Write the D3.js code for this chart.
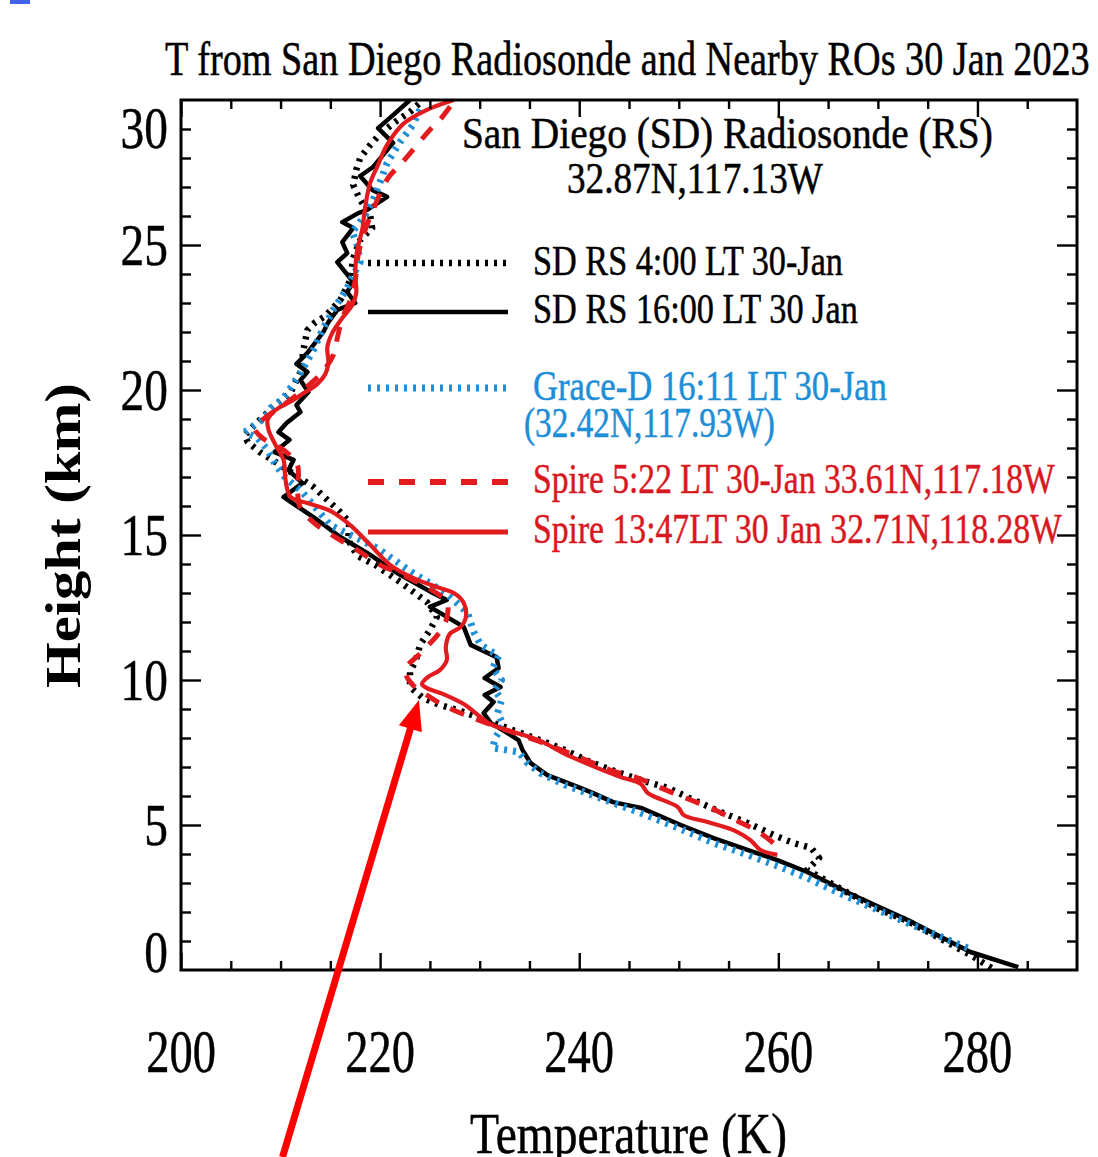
<!DOCTYPE html>
<html>
<head>
<meta charset="utf-8">
<title>T from San Diego Radiosonde and Nearby ROs 30 Jan 2023</title>
<script src="https://cdn.jsdelivr.net/npm/d3@7"></script>
<style>
  html, body { margin: 0; padding: 0; background: #fff; }
  svg { display: block; }
  text { font-family: "Liberation Serif", "Times New Roman", Times, serif; }
</style>
</head>
<body>
<svg id="chart" width="1098" height="1157"></svg>
<script>
// Temperature profiles, each point is [temperature (K), height (km)]
const sdRs0400 = [[281.4,0.07],[279.3,0.52],[273.0,1.69],[270.3,2.07],[267.0,2.66],[262.9,3.45],[264.1,3.86],[263.3,4.21],[261.5,4.38],[259.5,4.66],[256.9,5.07],[254.2,5.45],[251.5,5.86],[248.9,6.28],[246.5,6.52],[244.1,6.79],[241.1,7.17],[238.8,7.55],[236.8,7.83],[234.4,8.14],[231.1,8.55],[228.1,8.93],[226.0,9.14],[224.3,9.38],[223.0,9.76],[223.0,10.28],[223.6,10.69],[224.0,11.21],[225.0,11.72],[225.7,12.17],[224.7,12.69],[222.0,13.38],[219.5,13.97],[217.7,14.28],[216.8,14.83],[216.9,15.45],[216.0,15.79],[214.7,16.21],[213.3,16.66],[211.5,17.07],[209.5,17.52],[207.9,17.86],[206.7,18.21],[206.4,18.45],[207.1,18.69],[208.1,19.03],[209.5,19.48],[211.0,19.90],[212.0,20.62],[212.3,21.38],[212.7,22.07],[213.5,22.34],[214.5,22.55],[216.0,23.10],[217.0,23.79],[217.3,24.55],[218.0,25.17],[219.2,25.59],[219.0,26.03],[218.0,26.55],[217.3,27.07],[217.6,27.59],[218.0,28.00],[219.0,28.45],[220.0,28.83],[221.5,29.24],[223.0,29.59],[224.0,29.90]];

const sdRs1600 = [[284.1,0.10],[279.3,0.62],[273.0,1.72],[267.0,2.66],[262.9,3.38],[259.9,3.79],[256.9,4.14],[253.5,4.55],[250.2,5.00],[246.2,5.59],[243.4,5.79],[241.4,6.10],[240.1,6.28],[236.8,6.72],[235.1,7.14],[234.3,7.59],[233.9,7.93],[232.8,8.17],[231.1,8.52],[230.4,8.86],[231.4,9.24],[230.5,9.48],[232.1,9.76],[230.5,10.07],[231.9,10.41],[231.7,10.79],[229.1,11.21],[228.4,11.83],[225.0,12.52],[226.7,12.76],[225.3,13.00],[221.7,13.69],[218.7,14.38],[216.0,14.93],[213.3,15.62],[211.0,16.14],[210.3,16.31],[212.2,16.79],[210.8,17.24],[211.3,17.59],[209.4,17.86],[210.9,18.28],[209.8,18.55],[210.6,18.86],[212.0,19.24],[211.6,19.48],[212.8,19.93],[212.0,20.34],[212.7,20.62],[211.6,20.90],[212.7,21.28],[214.3,22.00],[214.8,22.34],[215.7,22.76],[217.5,23.00],[216.7,23.38],[217.3,23.72],[215.7,24.41],[216.7,24.72],[216.2,25.10],[217.3,25.59],[216.2,25.79],[217.8,26.10],[218.7,26.21],[220.7,26.66],[219.2,26.90],[218.0,27.38],[219.3,27.69],[221.3,28.52],[219.8,29.03],[221.3,29.48],[223.0,30.00]];

const graceD1611 = [[279.0,0.76],[273.0,1.62],[267.0,2.52],[262.9,3.17],[259.9,3.59],[256.9,3.97],[253.5,4.38],[250.2,4.86],[246.2,5.41],[242.1,5.93],[238.6,6.38],[236.1,6.79],[234.8,7.14],[233.9,7.52],[231.3,7.66],[231.6,8.03],[232.4,8.45],[231.8,8.86],[232.2,9.31],[231.5,9.66],[232.2,10.00],[231.3,10.41],[231.9,10.83],[230.1,11.21],[229.4,11.66],[228.8,12.31],[226.7,12.97],[225.0,13.34],[223.3,13.69],[219.7,14.55],[217.0,15.00],[215.0,15.34],[213.3,16.03],[212.0,16.55],[210.5,16.97],[209.5,17.41],[208.7,17.93],[207.7,18.34],[206.4,18.55],[207.4,18.79],[208.4,19.03],[209.0,19.38],[210.3,19.72],[212.0,20.59],[213.3,21.38],[214.2,22.07],[215.3,22.76],[216.7,23.52],[217.3,23.97],[218.0,24.41],[217.7,25.00],[217.2,25.45],[218.5,26.03],[219.3,26.55],[220.0,27.17],[220.7,27.83],[222.0,28.55],[223.3,29.14],[224.2,29.83]];

const spire0522 = [[259.5,4.38],[257.9,4.79],[255.7,5.17],[253.0,5.62],[250.4,5.97],[248.0,6.31],[245.9,6.62],[243.4,6.86],[241.4,7.14],[236.4,7.83],[234.1,8.10],[231.8,8.38],[229.1,8.72],[226.7,9.07],[225.0,9.41],[223.2,9.86],[222.5,10.34],[224.2,10.97],[226.0,11.66],[226.7,12.14],[226.7,12.69],[225.2,13.10],[222.5,13.59],[220.0,13.97],[217.7,14.48],[215.5,14.93],[213.5,15.38],[212.0,15.93],[211.7,16.55],[211.7,17.41],[210.3,17.93],[208.2,18.34],[207.4,18.69],[208.4,19.03],[210.3,19.48],[212.5,20.07],[214.2,20.62],[215.3,21.21],[215.7,21.79],[216.2,22.48],[217.0,23.10],[217.5,23.79],[217.8,24.66],[218.5,25.52],[219.5,26.38],[220.8,27.31],[222.0,27.76],[223.3,28.28],[225.0,28.97],[226.0,29.31],[227.3,29.90]];

const spire1347 = [[259.9,3.97],[258.2,4.14],[257.2,4.48],[255.7,4.79],[252.9,5.10],[250.5,5.34],[249.9,5.62],[246.9,6.10],[246.2,6.41],[244.1,6.66],[241.8,6.97],[238.4,7.48],[236.1,7.90],[233.4,8.21],[231.1,8.48],[228.4,9.17],[226.3,9.52],[224.7,9.72],[224.2,9.86],[224.8,10.10],[226.0,10.34],[226.7,10.69],[226.6,11.14],[227.0,11.59],[228.1,11.83],[228.6,12.14],[228.4,12.66],[227.4,13.00],[226.0,13.17],[223.3,13.52],[221.0,13.97],[219.0,14.66],[217.0,15.34],[215.0,15.83],[212.7,16.10],[211.0,16.31],[210.5,16.90],[210.3,17.59],[209.5,18.10],[208.8,18.62],[208.7,18.97],[209.5,19.31],[211.3,19.66],[212.5,19.93],[213.7,20.21],[214.5,20.55],[214.8,20.93],[214.7,21.48],[215.2,21.97],[216.2,22.48],[217.2,22.93],[217.6,23.34],[217.5,24.03],[217.7,24.83],[218.2,25.52],[218.5,26.31],[219.0,27.14],[219.7,27.69],[220.7,28.45],[222.3,29.17],[224.7,29.66],[227.4,30.00]];

// Axis ticks and labels
const xTickValues = [200, 220, 240, 260, 280];
const xTickLabels = ["200", "220", "240", "260", "280"];
const yTickValues = [0, 5, 10, 15, 20, 25, 30];
const yTickLabels = ["0", "5", "10", "15", "20", "25", "30"];

// Legend and header texts
const chartTitle = "T from San Diego Radiosonde and Nearby ROs 30 Jan 2023";
const stationName = "San Diego (SD) Radiosonde (RS)";
const stationCoords = "32.87N,117.13W";
const legendLabels = [
  "SD RS 4:00 LT 30-Jan",
  "SD RS 16:00 LT 30 Jan",
  "Grace-D 16:11 LT 30-Jan",
  "Spire 5:22 LT 30-Jan 33.61N,117.18W",
  "Spire 13:47LT 30 Jan 32.71N,118.28W"
];
const graceCoords = "(32.42N,117.93W)";
const xTitle = "Temperature (K)";
const yTitle = "Height (km)";

// Annotation arrow pointing at the Spire 13:47 cold notch, [T, h]
const arrowTail = [210.2, -6.45];
const arrowTip = [223.9, 9.31];

// ---------------------------------------------------------------------
const W = 1098, H = 1157;
const BLACK = "#000000", BLUE = "#1e8ed6", RED = "#e21b1f", TEXT_RED = "#d7191f", ARROW = "#ff0000";

const svg = d3.select("#chart");
svg.append("rect").attr("width", W).attr("height", H).attr("fill", "#fff");

const x = d3.scaleLinear().domain([200, 290]).range([181, 1077]);
const y = d3.scaleLinear().domain([0, 30]).range([970, 100]);

svg.append("clipPath").attr("id", "plotArea")
  .append("rect")
  .attr("x", x(200)).attr("y", y(30))
  .attr("width", x(290) - x(200)).attr("height", y(0) - y(30));

const straight = d3.line().x(d => x(d[0])).y(d => y(d[1]));
const smooth = d3.line().x(d => x(d[0])).y(d => y(d[1])).curve(d3.curveCatmullRom.alpha(0.5));

const profiles = [
  { data: sdRs0400,  gen: straight, color: BLACK, width: 6.5, dash: "3,6" },
  { data: sdRs1600,  gen: straight, color: BLACK, width: 4.5, dash: null },
  { data: graceD1611, gen: straight, color: BLUE, width: 7, dash: "3,6" },
  { data: spire0522, gen: smooth, color: RED, width: 5, dash: "15,13" },
  { data: spire1347, gen: smooth, color: RED, width: 4.2, dash: null }
];

const curves = svg.append("g").attr("clip-path", "url(#plotArea)");
profiles.forEach(p => {
  curves.append("path")
    .datum(p.data)
    .attr("d", p.gen)
    .attr("fill", "none")
    .attr("stroke", p.color)
    .attr("stroke-width", p.width)
    .attr("stroke-dasharray", p.dash)
    .attr("stroke-linejoin", "round")
    .attr("stroke-linecap", "butt");
});

// Inward tick marks on all four sides
function ticks(axisFn, scale, values, len, transform) {
  svg.append("g")
    .attr("transform", transform)
    .call(axisFn(scale).tickValues(values).tickSize(-len).tickFormat(""))
    .call(g => g.select(".domain").remove())
    .selectAll("line").attr("stroke", BLACK).attr("stroke-width", 2.4);
}
const xMinor = d3.range(205, 290, 5).filter(v => v % 20 !== 0);
const yMinor = d3.range(1, 30, 1).filter(v => v % 5 !== 0);
const yMajor = yTickValues.filter(v => v > 0 && v < 30);

ticks(d3.axisBottom, x, xTickValues, 17, `translate(0,${y(0)})`);
ticks(d3.axisBottom, x, xMinor, 9, `translate(0,${y(0)})`);
ticks(d3.axisTop, x, xTickValues, 17, `translate(0,${y(30)})`);
ticks(d3.axisTop, x, xMinor, 9, `translate(0,${y(30)})`);
ticks(d3.axisLeft, y, yMajor, 20, `translate(${x(200)},0)`);
ticks(d3.axisLeft, y, yMinor, 10, `translate(${x(200)},0)`);
ticks(d3.axisRight, y, yMajor, 20, `translate(${x(290)},0)`);
ticks(d3.axisRight, y, yMinor, 10, `translate(${x(290)},0)`);

// Plot frame
svg.append("rect")
  .attr("x", x(200)).attr("y", y(30))
  .attr("width", x(290) - x(200)).attr("height", y(0) - y(30))
  .attr("fill", "none").attr("stroke", BLACK).attr("stroke-width", 3);

// Text squeezed horizontally to a given span, with a hairline outline for weight
function fitText(str, x0, x1, base, size, opts = {}) {
  const fill = opts.fill || BLACK;
  const g = svg.append("g");
  const t = g.append("text")
    .attr("font-size", size)
    .attr("fill", fill)
    .attr("stroke", fill)
    .attr("stroke-width", opts.weight ? 0 : 0.5)
    .attr("font-weight", opts.weight || "normal")
    .text(str);
  const len = t.node().getComputedTextLength();
  const s = Math.abs(x1 - x0) / len;
  if (opts.rotate) {
    g.attr("transform", `translate(${base},${x0}) rotate(-90) scale(${s},1)`);
  } else {
    g.attr("transform", `translate(${x0},${base}) scale(${s},1)`);
  }
  return g;
}

// Tick labels
xTickValues.forEach((v, i) => {
  svg.append("g")
    .attr("transform", `translate(${x(v)},1072) scale(0.75,1)`)
    .append("text")
    .attr("text-anchor", "middle")
    .attr("font-size", 62)
    .attr("stroke", BLACK).attr("stroke-width", 0.5)
    .text(xTickLabels[i]);
});
const yLabelNudge = { 0: -18, 30: 28 };
yTickValues.forEach((v, i) => {
  svg.append("g")
    .attr("transform", `translate(168,${y(v) + 20 + (yLabelNudge[v] || 0)}) scale(0.79,1)`)
    .append("text")
    .attr("text-anchor", "end")
    .attr("font-size", 60)
    .attr("stroke", BLACK).attr("stroke-width", 0.5)
    .text(yTickLabels[i]);
});

// Titles
fitText(chartTitle, 165, 1090, 75, 48);
fitText(xTitle, 470, 787, 1153, 56);
fitText(yTitle, 688, 383, 80, 50, { rotate: true, weight: "bold" });

// Station header
fitText(stationName, 462, 993, 148, 44);
fitText(stationCoords, 567, 823, 193, 44);

// Legend
const legendRows = [
  { y: 263, base: 275, x1: 843, color: BLACK, text: BLACK, width: 6.5, dash: "3,6" },
  { y: 312, base: 323, x1: 858, color: BLACK, text: BLACK, width: 4.5, dash: null },
  { y: 388, base: 400, x1: 887, color: BLUE, text: BLUE, width: 7, dash: "3,6" },
  { y: 482, base: 493, x1: 1055, color: RED, text: TEXT_RED, width: 6, dash: "16,15" },
  { y: 532, base: 543, x1: 1062, color: RED, text: TEXT_RED, width: 5, dash: null }
];
legendRows.forEach((r, i) => {
  svg.append("line")
    .attr("x1", 368).attr("x2", 508).attr("y1", r.y).attr("y2", r.y)
    .attr("stroke", r.color).attr("stroke-width", r.width)
    .attr("stroke-dasharray", r.dash);
  fitText(legendLabels[i], 533, r.x1, r.base, 43, { fill: r.text });
});
fitText(graceCoords, 524, 775, 437, 42, { fill: BLUE });

// Annotation arrow
const tail = [x(arrowTail[0]), y(arrowTail[1])];
const tip = [x(arrowTip[0]), y(arrowTip[1])];
const dx = tip[0] - tail[0], dy = tip[1] - tail[1];
const L = Math.hypot(dx, dy), ux = dx / L, uy = dy / L;
const headLen = 30, headHalf = 12;
const bx = tip[0] - ux * headLen, by = tip[1] - uy * headLen;
svg.append("line")
  .attr("x1", tail[0]).attr("y1", tail[1])
  .attr("x2", bx + ux * 2).attr("y2", by + uy * 2)
  .attr("stroke", ARROW).attr("stroke-width", 7);
svg.append("path")
  .attr("d", `M${tip[0]},${tip[1]} L${bx - uy * headHalf},${by + ux * headHalf} L${bx + uy * headHalf},${by - ux * headHalf} Z`)
  .attr("fill", ARROW);

// Corner mark
svg.append("rect").attr("x", 10).attr("y", 0).attr("width", 20).attr("height", 4).attr("fill", "#4262ea");
</script>
</body>
</html>
